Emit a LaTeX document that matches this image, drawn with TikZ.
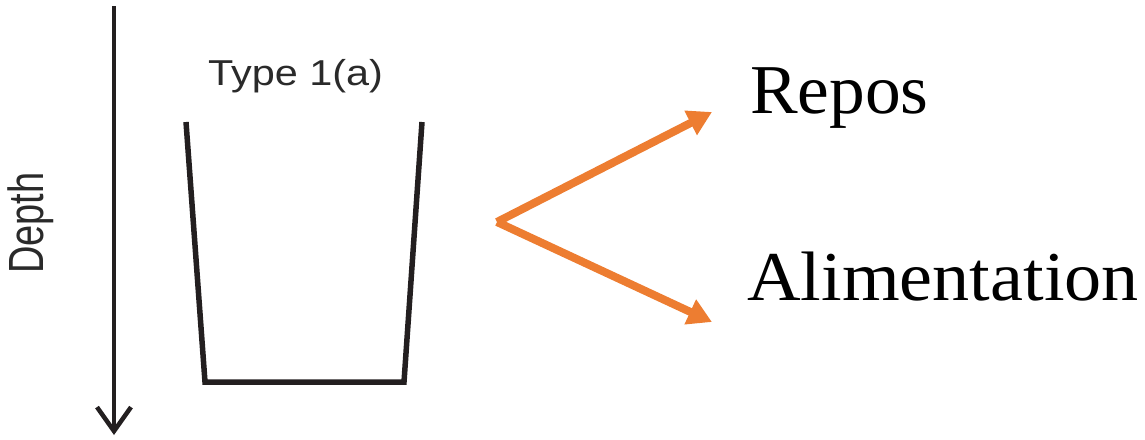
\documentclass[tikz,border=0pt]{standalone}
\usepackage{fontspec}
\setmainfont{Liberation Serif}
\newfontfamily\arialfam{Liberation Sans}
\usetikzlibrary{arrows.meta}
\definecolor{inkdark}{HTML}{231F20}
\definecolor{labelgray}{HTML}{2A2A2A}
\definecolor{orangeline}{HTML}{ED7D31}
\tikzset{
  cupline/.style={draw=inkdark, line width=5.5pt, line join=miter},
  deptharrow/.style={draw=inkdark, line width=4.5pt, -{Straight Barb[length=24pt,width=34pt,line width=4.5pt]}},
  orangearrow/.style={draw=orangeline, line width=8pt, -{Triangle[length=24pt,width=26pt]}},
  sanslabel/.style={inner sep=0pt, text=labelgray, font=\arialfam\fontsize{36}{40}\selectfont},
  bigserif/.style={inner sep=0pt, text=black, font=\fontsize{70}{76}\selectfont, anchor=base west}
}
\begin{document}
\begin{tikzpicture}[x=1pt,y=-1pt]
\useasboundingbox (0,0) rectangle (1145,439);
% depth arrow
\coordinate (dtop) at (114,6);
\coordinate (dbot) at (114,435);
\draw[deptharrow] (dtop) -- (dbot);
\node[sanslabel, rotate=90, font=\arialfam\fontsize{38}{42}\selectfont] (depth) at (31,223) {\scalebox{1}[1.3]{Depth}};
% title
\node[sanslabel, anchor=base west] (title) at (208,85) {\scalebox{1.15}[1]{Type 1(a)}};
% cup
\coordinate (cupTL) at (186,122);
\coordinate (cupBL) at (205,382);
\coordinate (cupBR) at (404,382);
\coordinate (cupTR) at (422,122);
\draw[cupline] (cupTL) -- (cupBL) -- (cupBR) -- (cupTR);
% orange arrows
\coordinate (src) at (497,222);
\coordinate (tipUp) at (712,112);
\coordinate (tipDown) at (712,322);
\draw[orangearrow] (src) -- (tipUp);
\draw[orangearrow] (src) -- (tipDown);
% labels
\node[bigserif] (repos) at (750,113) {\scalebox{1.02}[1]{Repos}};
\node[bigserif] (alim) at (747,300) {\scalebox{1.06}[1]{Alimentation}};
\end{tikzpicture}
\end{document}
